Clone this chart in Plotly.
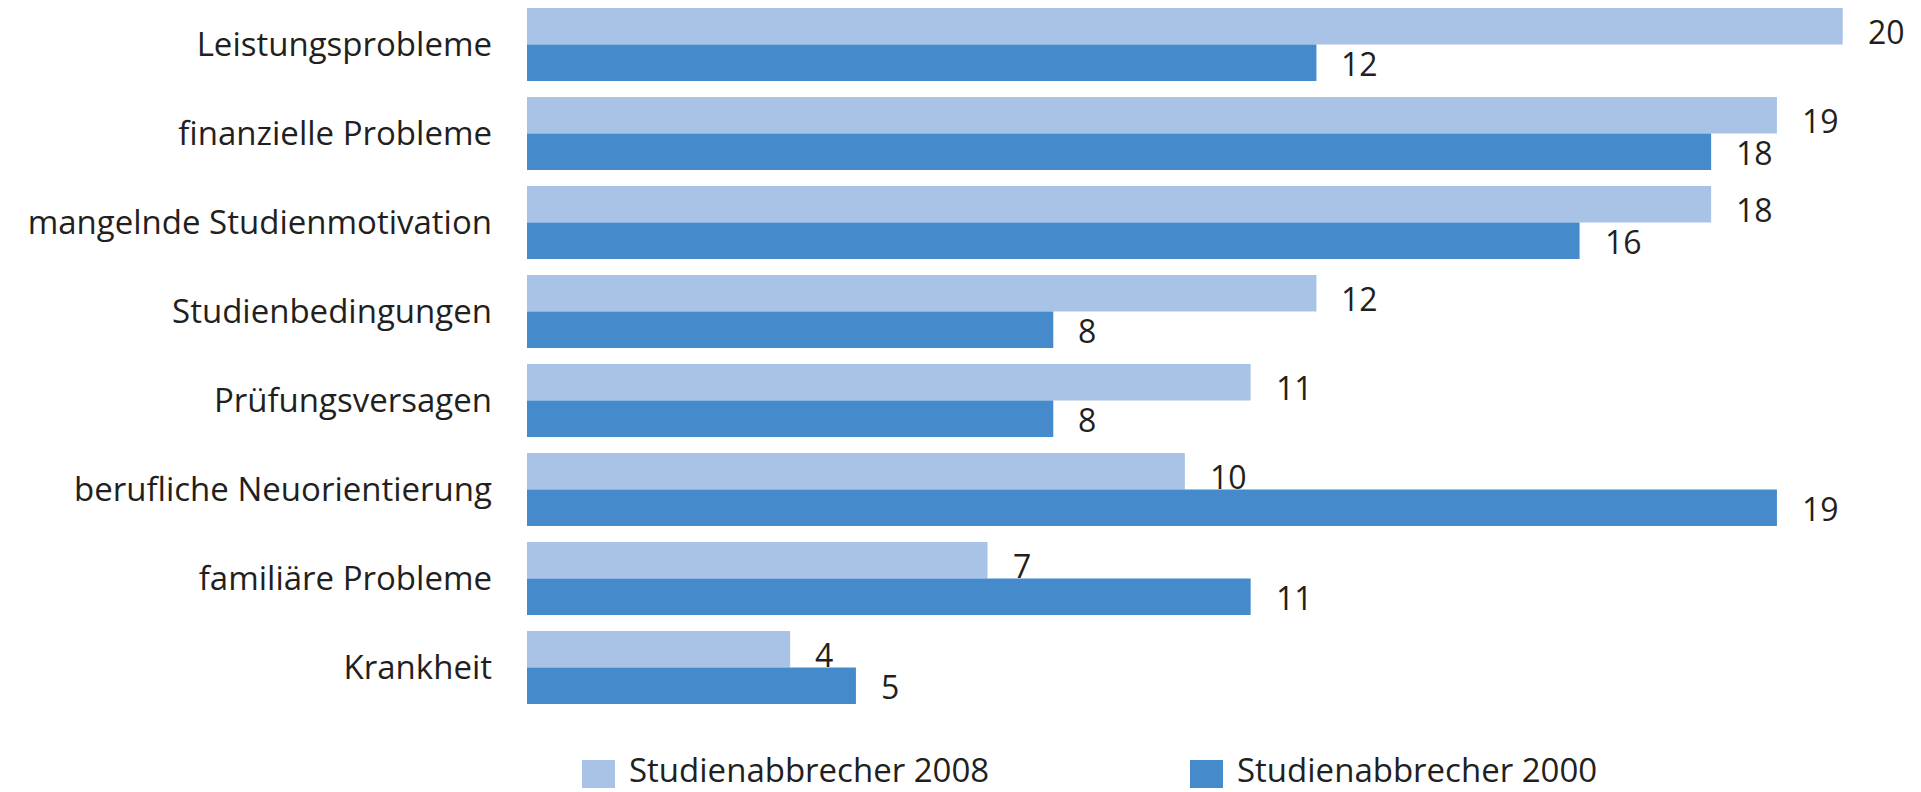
import plotly.graph_objects as go

categories = ["Leistungsprobleme", "finanzielle Probleme", "mangelnde Studienmotivation",
              "Studienbedingungen", "Prüfungsversagen", "berufliche Neuorientierung",
              "familiäre Probleme", "Krankheit"]
series_names = ["Studienabbrecher 2008", "Studienabbrecher 2000"]
values_2008 = [20, 19, 18, 12, 11, 10, 7, 4]
values_2000 = [12, 18, 16, 8, 8, 19, 11, 5]

colors = ["#A8C3E5", "#458ACB"]
FONT = "Open Sans"
TXT = "#231F20"

# the page body has an 8px margin, so the figure is 8px smaller than the window
OFF = 8
W, H = 1921 - OFF, 792 - OFF
ML, MB = 527 - OFF, 80
PW, PH = W - ML, H - MB

fig = go.Figure()
for name, vals, col in zip(series_names, [values_2008, values_2000], colors):
    fig.add_trace(go.Bar(y=categories, x=vals, orientation="h", name=name,
                         marker=dict(color=col, line=dict(width=0)),
                         showlegend=False, hoverinfo="x+y"))

# value labels
for vals, ys in [(values_2008, 13), (values_2000, -19)]:
    for c, v in zip(categories, vals):
        fig.add_annotation(x=v, y=c, text=str(v), showarrow=False,
                           xanchor="left", yanchor="middle", xshift=23, yshift=ys,
                           font=dict(family=FONT, size=32, color=TXT))

# legend (drawn manually so that the swatches match the large squares)
for name, col, sx in zip(series_names, colors, [582, 1190]):
    fx = sx - OFF
    fig.add_shape(type="rect", xref="paper", yref="paper",
                  x0=(fx - ML) / PW, x1=(fx + 33 - ML) / PW,
                  y0=(PH - (788 - OFF)) / PH, y1=(PH - (760 - OFF)) / PH,
                  fillcolor=col, line=dict(width=0))
    fig.add_annotation(xref="paper", yref="paper", x=(fx + 45 - ML) / PW,
                       y=(PH - H) / PH, yshift=-2, text=name, showarrow=False,
                       xanchor="left", yanchor="bottom",
                       font=dict(family=FONT, size=33, color=TXT))

fig.update_layout(
    width=W, height=H,
    margin=dict(l=ML, r=0, t=0, b=MB, autoexpand=False),
    paper_bgcolor="white", plot_bgcolor="white",
    showlegend=False,
    barmode="group", bargap=0.18, bargroupgap=0,
    xaxis=dict(range=[0, 21.19], visible=False, showgrid=False, zeroline=False,
               automargin=False),
    yaxis=dict(range=[7.5, -0.41], type="category", showgrid=False, zeroline=False,
               showline=False, ticks="", ticklabelstandoff=34, automargin=False,
               tickfont=dict(family=FONT, size=33, color=TXT)),
)
fig.write_html("out.html")
